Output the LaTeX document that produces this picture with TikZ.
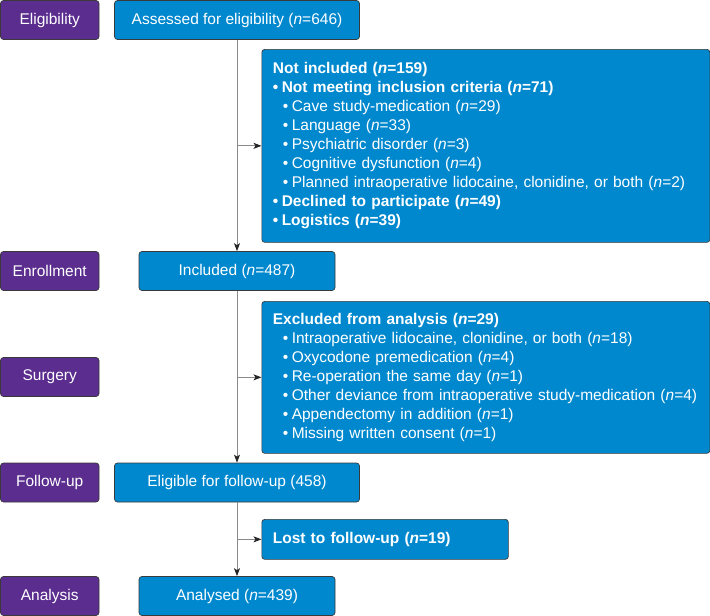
\documentclass[tikz,border=0pt]{standalone}
\usepackage{fontspec}
\setmainfont{Liberation Sans}
\usetikzlibrary{arrows.meta}
\definecolor{stagepurple}{HTML}{5B2D8E}
\definecolor{boxblue}{HTML}{0088CE}
\definecolor{edgegrey}{HTML}{3A3A3A}
\definecolor{linegrey}{HTML}{8A8A8A}
\newcommand\subitm{\hspace*{10pt}\textbullet\hspace{3.5pt}}
\newcommand\topitm{\textbullet\hspace{3.5pt}}
\begin{document}
\begin{tikzpicture}[x=1pt,y=-1pt,
  stage/.style={draw=edgegrey, line width=0.7pt, fill=stagepurple, rounded corners=3pt,
    text=white, minimum width=98.5pt, minimum height=39pt, inner sep=0pt,
    font=\fontsize{15.5}{18}\selectfont},
  flow/.style={draw=edgegrey, line width=0.7pt, fill=boxblue, rounded corners=3pt,
    text=white, minimum height=39pt, inner sep=0pt, font=\fontsize{15.5}{18}\selectfont},
  listbox/.style={flow, anchor=north west, align=left, inner xsep=11pt, inner ysep=0pt,
    font=\fontsize{15.5}{19}\selectfont},
  link/.style={draw=linegrey, line width=0.9pt},
  arr/.style={link, -{Stealth[length=8pt,width=6pt,inset=2pt,color=black!85]}}
]
\useasboundingbox (0,0) rectangle (710,616);
% stage labels
\node[stage] (s1) at (49.75,20) {Eligibility};
\node[stage] (s2) at (49.75,271) {Enrollment};
\node[stage] (s3) at (49.75,377) {Surgery};
\node[stage] (s4) at (49.75,482.5) {Follow-up};
\node[stage] (s5) at (49.75,596) {Analysis};
% main flow
\node[flow, minimum width=245pt] (assess) at (237,20) {Assessed for eligibility (\textit{n}=646)};
\node[flow, minimum width=196pt] (incl) at (237,271) {Included (\textit{n}=487)};
\node[flow, minimum width=245pt] (elig) at (237,482.5) {Eligible for follow-up (458)};
\node[flow, minimum width=196pt] (anal) at (237,596) {Analysed (\textit{n}=439)};
% side boxes
\node[listbox, text width=426pt, minimum height=193pt] (notinc) at (261.5,49) {%
\textbf{Not included (\textit{n}=159)}\\
\textbf{\topitm Not meeting inclusion criteria (\textit{n}=71)}\\
\subitm Cave study-medication (\textit{n}=29)\\
\subitm Language (\textit{n}=33)\\
\subitm Psychiatric disorder (\textit{n}=3)\\
\subitm Cognitive dysfunction (\textit{n}=4)\\
\subitm Planned intraoperative lidocaine, clonidine, or both (\textit{n}=2)\\
\textbf{\topitm Declined to participate (\textit{n}=49)}\\
\textbf{\topitm Logistics (\textit{n}=39)}};
\node[listbox, text width=426pt, minimum height=152pt] (excl) at (261.5,301) {%
\textbf{Excluded from analysis (\textit{n}=29)}\\
\subitm Intraoperative lidocaine, clonidine, or both (\textit{n}=18)\\
\subitm Oxycodone premedication (\textit{n}=4)\\
\subitm Re-operation the same day (\textit{n}=1)\\
\subitm Other deviance from intraoperative study-medication (\textit{n}=4)\\
\subitm Appendectomy in addition (\textit{n}=1)\\
\subitm Missing written consent (\textit{n}=1)};
\node[listbox, text width=224.5pt, minimum height=40pt] (lost) at (261.5,519) {%
\textbf{Lost to follow-up (\textit{n}=19)}};
% connectors
\draw[arr] (assess.south) -- (incl.north);
\draw[arr] (incl.south) -- (elig.north);
\draw[arr] (elig.south) -- (anal.north);
\coordinate (b1) at (assess.south |- notinc.west);
\coordinate (b2) at (assess.south |- excl.west);
\coordinate (b3) at (assess.south |- lost.west);
\draw[arr] (b1) -- (notinc.west);
\draw[arr] (b2) -- (excl.west);
\draw[arr] (b3) -- (lost.west);
\end{tikzpicture}
\end{document}
